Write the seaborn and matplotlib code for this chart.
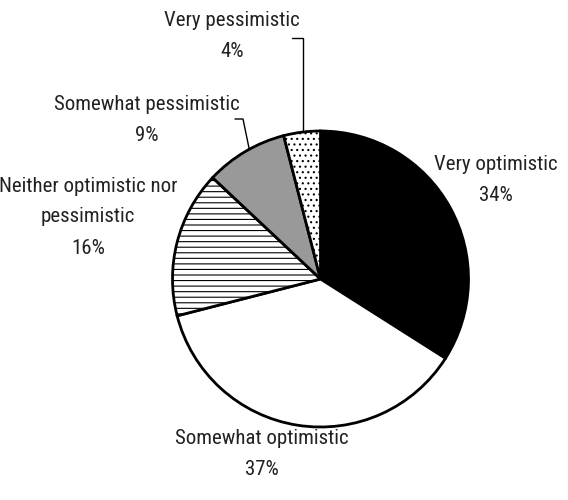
import matplotlib
matplotlib.use("Agg")
import matplotlib.pyplot as plt
import seaborn as sns

sns.set_theme(style="white")
plt.rcParams["font.family"] = ["Roboto Condensed", "DejaVu Sans"]
plt.rcParams["font.stretch"] = "condensed"
plt.rcParams["hatch.linewidth"] = 0.8

categories = [
    "Very optimistic",
    "Somewhat optimistic",
    "Neither optimistic nor\npessimistic",
    "Somewhat pessimistic",
    "Very pessimistic",
]
shares = [34, 37, 16, 9, 4]
fills = ["#000000", "#ffffff", "#ffffff", "#999999", "#ffffff"]
hatches = [None, None, "---", None, "..."]

fig = plt.figure(figsize=(5.68, 5.0), dpi=100)
ax = fig.add_axes([0, 0, 1, 1])

cx, cy, r = 320.5, 221, 148
wedges, _ = ax.pie(
    shares,
    colors=fills,
    startangle=90,
    counterclock=False,
    center=(cx, cy),
    radius=r,
    frame=True,
    wedgeprops={"edgecolor": "black", "linewidth": 2},
)
for w, h in zip(wedges, hatches):
    if h:
        w.set_hatch(h)
ax.set_xlim(0, 568)
ax.set_ylim(0, 500)
ax.set_aspect("equal")
ax.axis("off")

labels = [f"{c}\n{s}%" for c, s in zip(categories, shares)]
label_pos = [(496, 320), (262, 46), (88, 283), (147, 380), (232, 464)]
for txt, (x, y) in zip(labels, label_pos):
    ax.text(x, y, txt, ha="center", va="center", fontsize=15,
            linespacing=1.8, color="#222222")

# leader lines for the small slices
ax.plot([303, 303, 292], [369, 462, 462], color="black", lw=1)
ax.plot([249, 243, 235], [352, 381, 381], color="black", lw=1)

fig.savefig("out.png", dpi=100)
